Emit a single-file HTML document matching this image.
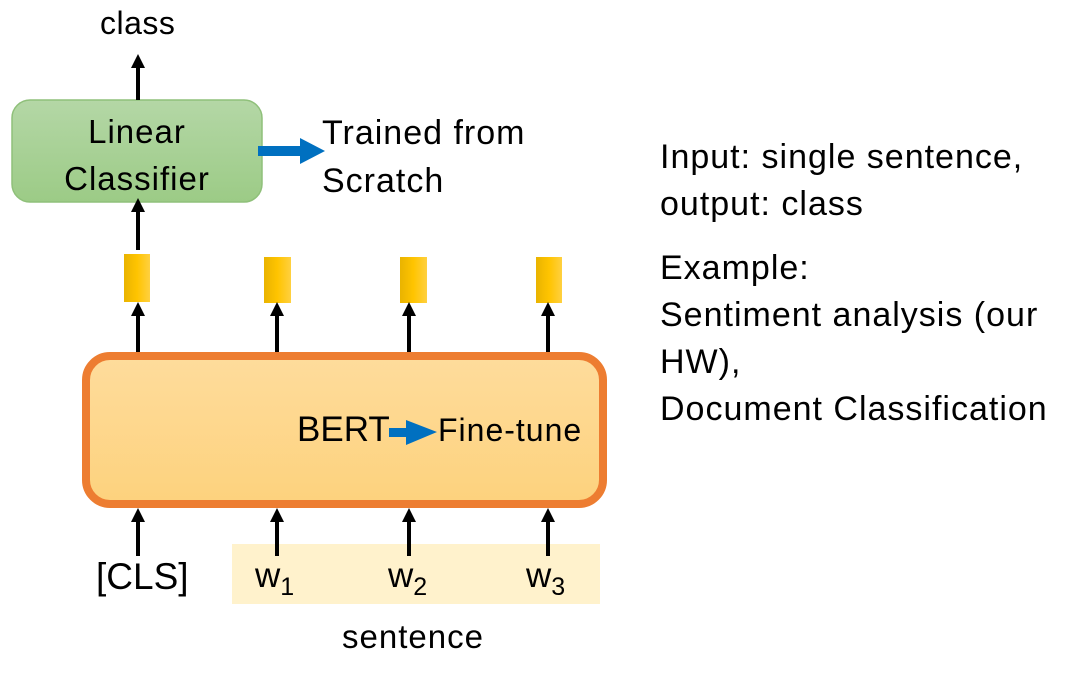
<!DOCTYPE html><html><head><style>
body{margin:0;width:1070px;height:680px;background:#fff;overflow:hidden;font-family:"Liberation Sans","DejaVu Sans",sans-serif;position:relative}
.t{position:absolute;color:#000;white-space:nowrap}
</style></head><body>
<svg width="1070" height="680" style="position:absolute;left:0;top:0">
<defs>
<linearGradient id="g" x1="0" y1="0" x2="0" y2="1"><stop offset="0" stop-color="#b4d7a6"/><stop offset="1" stop-color="#9ccb86"/></linearGradient>
<linearGradient id="o" x1="0" y1="0" x2="0" y2="1"><stop offset="0" stop-color="#fedc9c"/><stop offset="1" stop-color="#fdd27d"/></linearGradient>
<linearGradient id="y" x1="0" y1="0" x2="1" y2="0"><stop offset="0" stop-color="#e9b300"/><stop offset="0.5" stop-color="#ffc400"/><stop offset="1" stop-color="#ffd040"/></linearGradient>
</defs>
<rect x="232" y="544" width="368" height="60" fill="#fff2cc"/>
<rect x="12" y="100" width="250" height="102" rx="18" fill="url(#g)" stroke="#8fc07a" stroke-width="1.5"/>
<rect x="86" y="356" width="517" height="148" rx="24" fill="url(#o)" stroke="#ed7d31" stroke-width="8"/>
<g fill="url(#y)">
<rect x="124" y="254" width="26" height="48"/><rect x="264" y="257" width="27" height="46"/><rect x="400" y="257" width="27" height="46"/><rect x="536" y="257" width="26" height="46"/>
</g>
<g stroke="#000" stroke-width="4" fill="none">
<line x1="138" y1="100" x2="138" y2="64"/>
<line x1="138" y1="250" x2="138" y2="208"/>
<line x1="138" y1="352" x2="138" y2="312"/><line x1="277" y1="352" x2="277" y2="312"/><line x1="409" y1="352" x2="409" y2="312"/><line x1="548" y1="352" x2="548" y2="312"/>
<line x1="138" y1="556" x2="138" y2="518"/><line x1="277" y1="556" x2="277" y2="518"/><line x1="409" y1="556" x2="409" y2="518"/><line x1="548" y1="556" x2="548" y2="518"/>
</g>
<g fill="#000">
<path d="M131,68 L138,54 L145,68z"/><path d="M131,212 L138,198 L145,212z"/>
<path d="M131,316 L138,302 L145,316z"/><path d="M270,316 L277,302 L284,316z"/><path d="M402,316 L409,302 L416,316z"/><path d="M541,316 L548,302 L555,316z"/>
<path d="M131,522 L138,508 L145,522z"/><path d="M270,522 L277,508 L284,522z"/><path d="M402,522 L409,508 L416,522z"/><path d="M541,522 L548,508 L555,522z"/>
</g>
<path d="M258,146 L300,146 L300,138 L325,151 L300,164 L300,156 L258,156z" fill="#0070c0"/>
<path d="M389,428 L406,428 L406,420 L437,432 L406,445 L406,437 L389,437z" fill="#0070c0"/>
</svg>
<div class="t" style="left:100px;top:5px;font-size:32px;letter-spacing:0.5px">class</div>
<div class="t" style="left:12px;top:108px;width:250px;text-align:center;font-size:33px;letter-spacing:1px;line-height:47px">Linear<br>Classifier</div>
<div class="t" style="left:322px;top:109px;font-size:34px;letter-spacing:1px;line-height:48px">Trained from<br>Scratch</div>
<div class="t" style="left:297px;top:410px;font-size:35px">BERT</div>
<div class="t" style="left:438px;top:412px;font-size:32px;letter-spacing:1px">Fine-tune</div>
<div class="t" style="left:96px;top:556px;font-size:37px">[CLS]</div>
<div class="t" style="left:255px;top:556px;font-size:35px">w<sub style="font-size:25px">1</sub></div>
<div class="t" style="left:388px;top:556px;font-size:35px">w<sub style="font-size:25px">2</sub></div>
<div class="t" style="left:526px;top:556px;font-size:35px">w<sub style="font-size:25px">3</sub></div>
<div class="t" style="left:342px;top:618px;font-size:33px;letter-spacing:1px">sentence</div>
<div class="t" style="left:660px;top:134px;font-size:34px;letter-spacing:1px;line-height:47px">Input: single sentence,<br>output: class</div>
<div class="t" style="left:660px;top:245px;font-size:34px;letter-spacing:1px;line-height:47px">Example:<br>Sentiment analysis (our<br>HW),<br>Document Classification</div>
</body></html>
